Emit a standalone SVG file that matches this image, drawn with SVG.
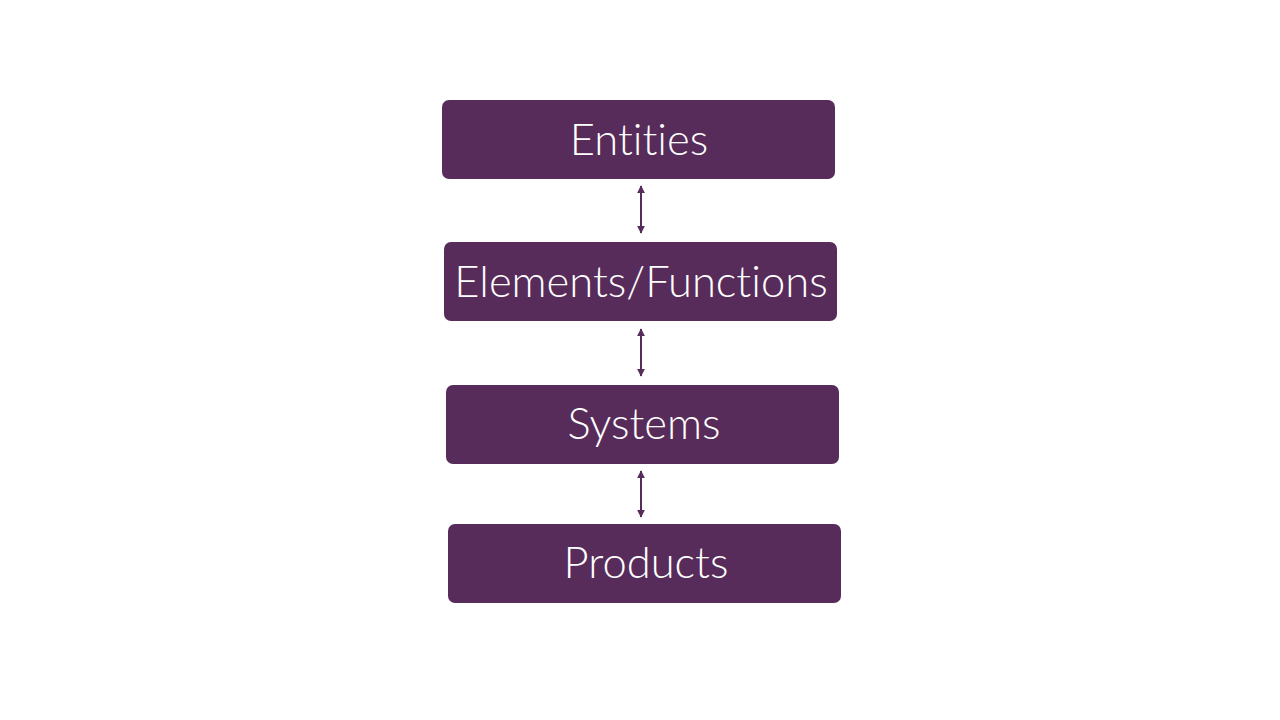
<svg xmlns="http://www.w3.org/2000/svg" width="1280" height="720" viewBox="0 0 1280 720">
<defs>
<style>
.box{fill:#582c5a}
.lbl{fill:#ffffff;font-family:Lato,"Open Sans",sans-serif;font-weight:300;font-size:43.5px;text-anchor:middle;font-variant-ligatures:none;font-feature-settings:"liga" 0}
.con{stroke:#582c5a;stroke-width:2;fill:none;marker-start:url(#ah);marker-end:url(#ah)}
</style>
<marker id="ah" viewBox="0 0 10 10" refX="9" refY="5" markerWidth="4" markerHeight="4" orient="auto-start-reverse" markerUnits="strokeWidth">
<path d="M0,0 L10,5 L0,10 z" fill="#582c5a"/>
</marker>
</defs>
<rect width="1280" height="720" fill="#ffffff"/>
<g id="connectors">
<line class="con" x1="641" y1="186" x2="641" y2="233"/>
<line class="con" x1="641" y1="329" x2="641" y2="376"/>
<line class="con" x1="641" y1="471" x2="641" y2="517"/>
</g>
<g id="entities">
<rect class="box" x="442" y="100" width="393" height="79" rx="7"/>
<text class="lbl" x="639" y="155">Entities</text>
</g>
<g id="elements">
<rect class="box" x="444" y="242" width="393" height="79" rx="7"/>
<text class="lbl" x="641" y="297">Elements/Functions</text>
</g>
<g id="systems">
<rect class="box" x="446" y="385" width="393" height="79" rx="7"/>
<text class="lbl" x="644" y="439">Systems</text>
</g>
<g id="products">
<rect class="box" x="448" y="524" width="393" height="79" rx="7"/>
<text class="lbl" x="646" y="578">Products</text>
</g>
</svg>
